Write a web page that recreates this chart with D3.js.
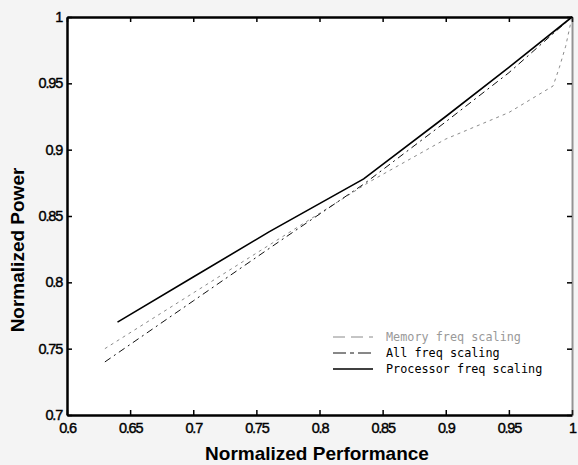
<!DOCTYPE html>
<html>
<head>
<meta charset="utf-8">
<script src="https://cdn.jsdelivr.net/npm/d3@7"></script>
<style>
  body { margin: 0; background: #f4f4f4; }
  svg { display: block; }
</style>
</head>
<body>
<svg width="578" height="465"></svg>
<script>
// values
const xTicks = [0.6, 0.65, 0.7, 0.75, 0.8, 0.85, 0.9, 0.95, 1]
const yTicks = [0.7, 0.75, 0.8, 0.85, 0.9, 0.95, 1]

const memPerf  = [0.63, 0.70, 0.77, 0.84, 0.90, 0.95, 0.985, 0.99, 0.995, 1.0]
const memPower = [0.75, 0.792, 0.834, 0.876, 0.908, 0.928, 0.948, 0.962, 0.978, 1.0]

const allPerf  = [0.63, 0.70, 0.77, 0.835, 0.90, 0.95, 1.0]
const allPower = [0.74, 0.786, 0.832, 0.874, 0.921, 0.958, 1.0]

const procPerf  = [0.64, 0.70, 0.76, 0.835, 0.90, 0.95, 1.0]
const procPower = [0.77, 0.804, 0.838, 0.878, 0.925, 0.962, 1.0]

const seriesNames = ["Memory freq scaling", "All freq scaling", "Processor freq scaling"]

const svg = d3.select("svg")
const pLeft = 67, pRight = 572, pTop = 17, pBottom = 415

const x = d3.scaleLinear().domain([0.6, 1]).range([pLeft, pRight])
const y = d3.scaleLinear().domain([0.7, 1]).range([pBottom, pTop])

// plot area
svg.append("rect")
    .attr("x", pLeft).attr("y", pTop)
    .attr("width", pRight - pLeft).attr("height", pBottom - pTop)
    .attr("fill", "#fff")

const fmt = d => d === 1 ? "1" : String(d)
const tickFont = "Liberation Sans, Arial, sans-serif"

// axes, ticks pointing inward
const axB = svg.append("g").attr("transform", `translate(0,${pBottom})`)
    .call(d3.axisBottom(x).tickValues(xTicks).tickFormat(fmt).tickSizeInner(-5).tickSizeOuter(0).tickPadding(8))
const axL = svg.append("g").attr("transform", `translate(${pLeft},0)`)
    .call(d3.axisLeft(y).tickValues(yTicks).tickFormat(fmt).tickSizeInner(-5).tickSizeOuter(0).tickPadding(5))
const axT = svg.append("g").attr("transform", `translate(0,${pTop})`)
    .call(d3.axisTop(x).tickValues(xTicks).tickFormat("").tickSizeInner(-5).tickSizeOuter(0))
const axR = svg.append("g").attr("transform", `translate(${pRight},0)`)
    .call(d3.axisRight(y).tickValues(yTicks).tickFormat("").tickSizeInner(-5).tickSizeOuter(0))

;[axB, axL, axT].forEach(a => {
    a.select(".domain").attr("stroke", "#000").attr("stroke-width", 2.5)
    a.selectAll(".tick line").attr("stroke", "#000").attr("stroke-width", 1.5)
})
axR.select(".domain").attr("stroke", "#333").attr("stroke-width", 2).attr("stroke-dasharray", "1,1")
axR.selectAll(".tick line").attr("stroke", "#000").attr("stroke-width", 1.5)

svg.selectAll(".tick text")
    .attr("font-family", tickFont)
    .attr("font-size", 14.5)
    .attr("letter-spacing", -1.2)
    .attr("fill", "#000")
    .attr("stroke", "#000")
    .attr("stroke-width", 0.4)

// axis titles
svg.append("text")
    .attr("x", 317).attr("y", 460)
    .attr("text-anchor", "middle")
    .attr("font-family", tickFont).attr("font-weight", "bold").attr("font-size", 19)
    .text("Normalized Performance")

svg.append("text")
    .attr("transform", "translate(24,250) rotate(-90)")
    .attr("text-anchor", "middle")
    .attr("font-family", tickFont).attr("font-weight", "bold").attr("font-size", 19)
    .text("Normalized Power")

// series
const line = d3.line().x(d => x(d[0])).y(d => y(d[1]))
const series = [
    { pts: d3.zip(memPerf, memPower), color: "#8a8a8a", width: 1, dash: "3,4" },
    { pts: d3.zip(allPerf, allPower), color: "#111", width: 1, dash: "7,4,2,4" },
    { pts: d3.zip(procPerf, procPower), color: "#000", width: 1.6, dash: null }
]

svg.append("g").selectAll("path")
    .data(series)
    .enter()
    .append("path")
    .attr("d", d => line(d.pts))
    .attr("fill", "none")
    .attr("stroke", d => d.color)
    .attr("stroke-width", d => d.width)
    .attr("stroke-dasharray", d => d.dash)

// legend
const legend = svg.append("g").attr("transform", "translate(333,337)")
const legRows = legend.selectAll("g")
    .data(series)
    .enter()
    .append("g")
    .attr("transform", (d, i) => `translate(0,${i * 16})`)

legRows.append("line")
    .attr("x1", 0).attr("x2", 40)
    .attr("stroke", d => d.color)
    .attr("stroke-width", d => d.width)
    .attr("stroke-dasharray", (d, i) => i === 0 ? "12,6" : i === 1 ? "13,4,4,4" : null)

legRows.append("text")
    .attr("x", 53).attr("y", 4)
    .attr("font-family", "DejaVu Sans Mono, monospace")
    .attr("font-size", 11.8)
    .attr("fill", (d, i) => i === 0 ? "#999" : "#000")
    .text((d, i) => seriesNames[i])
</script>
</body>
</html>
